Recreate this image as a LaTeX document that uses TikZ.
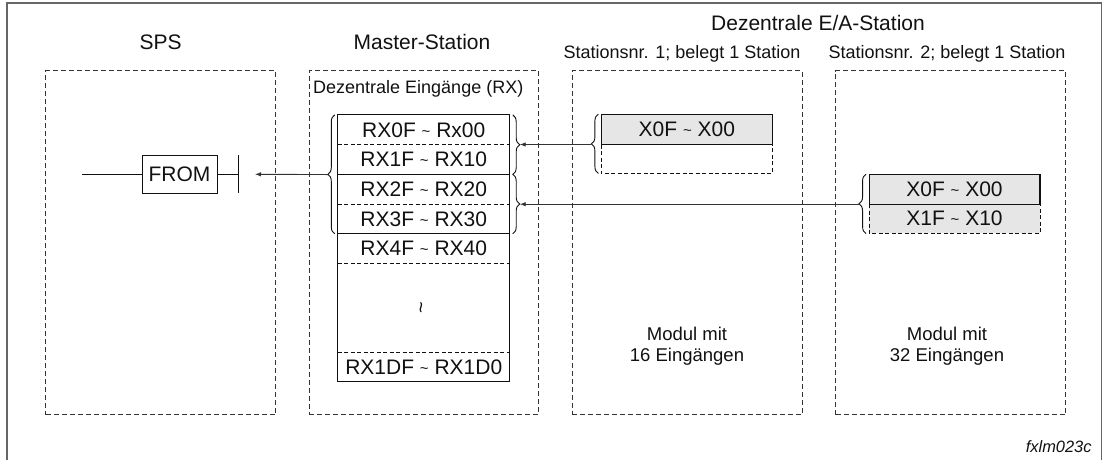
\documentclass[tikz,border=0pt]{standalone}
\usepackage{fontspec}
\setmainfont{Liberation Sans}
\usetikzlibrary{decorations.pathreplacing,arrows.meta,calc}

\definecolor{ink}{HTML}{111111}
\definecolor{rule}{HTML}{333333}
\definecolor{cellfill}{HTML}{E6E6E6}

\tikzset{
  frameline/.style={draw=black!60, line width=1.2pt},
  bigbox/.style={draw=rule, line width=0.9pt, dash pattern=on 5pt off 3pt,
    minimum width=230pt, minimum height=344pt, inner sep=0pt},
  cell/.style={inner sep=0pt, minimum width=171.5pt, minimum height=29.7pt,
    text=ink, font=\fontsize{21}{21}\selectfont},
  xcell/.style={cell, minimum width=170.5pt, fill=cellfill},
  solidrule/.style={draw=ink, line width=1.1pt},
  thinrule/.style={draw=ink, line width=0.9pt, dash pattern=on 4pt off 2.5pt},
  title/.style={text=ink, inner sep=0pt, font=\fontsize{21}{21}\selectfont},
  subtitle/.style={text=ink, inner sep=0pt, font=\fontsize{18}{18}\selectfont},
  curly/.style={draw=ink, line width=0.9pt, decorate,
    decoration={brace, amplitude=7pt}},
  conn/.style={draw=rule, line width=0.9pt, -{Latex[length=6pt,width=4.5pt]}},
  wire/.style={draw=ink, line width=1pt}
}

\newcommand{\tld}{\raisebox{0.05em}{\fontsize{15}{15}\selectfont\textasciitilde}}

\begin{document}
\begin{tikzpicture}[x=1pt, y=-1pt]
\useasboundingbox (0,0) rectangle (1104,459);

% outer frame (open at the bottom edge of the page)
\draw[frameline] (7,470) -- (7,3) -- (1101.5,3) -- (1101.5,470);

% headings
\node[title, anchor=base] (hsps) at (160.7,49.2) {SPS};
\node[title, anchor=base] (hmaster) at (422,49.2) {Master-Station};
\node[title, anchor=base] (hdez) at (818,30.8) {Dezentrale E/A-Station};
\node[subtitle, anchor=base] (hst1) at (682,58) {Stationsnr. 1; belegt 1 Station};
\node[subtitle, anchor=base] (hst2) at (947,58) {Stationsnr. 2; belegt 1 Station};

% dashed station frames
\node[bigbox] (sps) at (160.7,242.7) {};
\node[bigbox, minimum width=229.5pt] (master) at (423.75,242.7) {};
\node[bigbox] (st1) at (687,242.7) {};
\node[bigbox, minimum width=230.2pt] (st2) at (950.6,242.7) {};

\node[subtitle, anchor=base west] (rxlabel) at (313,93.7) {Dezentrale Eingänge (RX)};

% master input table
\node[cell] (r0) at (423.75,129.85) {RX0F \tld{} Rx00};
\node[cell] (r1) at (423.75,159.5) {RX1F \tld{} RX10};
\node[cell] (r2) at (423.75,189.2) {RX2F \tld{} RX20};
\node[cell] (r3) at (423.75,218.85) {RX3F \tld{} RX30};
\node[cell] (r4) at (423.75,248.5) {RX4F \tld{} RX40};
\node[cell, minimum height=88.7pt] (r5) at (423.75,307.65)
  {\rotatebox{90}{\fontsize{20}{20}\selectfont\textasciitilde}};
\node[cell] (r6) at (423.75,366.85) {RX1DF \tld{} RX1D0};

\draw[thinrule] (r0.south west) -- (r0.south east);
\draw[thinrule] (r2.south west) -- (r2.south east);
\draw[thinrule] (r4.south west) -- (r4.south east);
\draw[thinrule] (r5.south west) -- (r5.south east);
\draw[solidrule] (r1.south west) -- (r1.south east);
\draw[solidrule] (r3.south west) -- (r3.south east);
\draw[solidrule] (r0.north west) rectangle (r6.south east);

% station 1: 16 inputs
\node[xcell, minimum height=30pt] (s1a) at (686.85,129.3) {X0F \tld{} X00};
\node[cell, minimum width=170.5pt, minimum height=29pt] (s1b) at (686.85,158.8) {};
\draw[thinrule] (s1a.south west) -- (s1b.south west) -- (s1b.south east) -- (s1a.south east);
\draw[solidrule] (s1a.north west) rectangle (s1a.south east);

% station 2: 32 inputs
\node[xcell] (s2a) at (954.5,189.15) {X0F \tld{} X00};
\node[xcell, minimum height=29.3pt] (s2b) at (954.5,218.65) {X1F \tld{} X10};
\draw[thinrule] (s2a.south west) -- (s2b.south west) -- (s2b.south east) -- (s2a.south east);
\draw[solidrule] (s2a.north west) rectangle (s2a.south east);

\node[subtitle, align=center, font=\fontsize{18.5}{21.5}\selectfont, anchor=base]
  (mod1) at (687,361.5) {Modul mit\\16 Eingängen};
\node[subtitle, align=center, font=\fontsize{18.5}{21.5}\selectfont, anchor=base]
  (mod2) at (947,361.5) {Modul mit\\32 Eingängen};

% braces
\draw[curly] ([xshift=-3pt]r3.south west) -- ([xshift=-3pt]r0.north west);
\draw[curly] ([xshift=3pt]r0.north east) -- ([xshift=3pt]r1.south east);
\draw[curly] ([xshift=3pt]r2.north east) -- ([xshift=3pt]r3.south east);
\draw[curly] ([xshift=-3pt]s1b.south west) -- ([xshift=-3pt]s1a.north west);
\draw[curly] ([xshift=-3pt]s2b.south west) -- ([xshift=-3pt]s2a.north west);

\coordinate (tipL)  at ($(r1.south west)+(-10,0)$);
\coordinate (tipR1) at ($(r0.south east)+(10,0)$);
\coordinate (tipR2) at ($(r2.south east)+(10,0)$);
\coordinate (tip1)  at ($(s1a.south west)+(-10,0)$);
\coordinate (tip2)  at ($(s2a.south west)+(-10,0)$);

% PLC rung with FROM instruction
\node[draw=ink, line width=1pt, inner sep=0pt, minimum width=75pt, minimum height=38pt,
  text=ink, font=\fontsize{21}{21}\selectfont] (from) at (179.5,174) {FROM};
\coordinate (rungstart) at (82,174);
\coordinate (rungend) at (238,174);
\coordinate (sink) at (255,174.3);
\draw[wire] (rungstart) -- (from.west);
\draw[wire] (from.east) -- (rungend);
\draw[wire] ($(rungend)+(0,-19)$) -- ($(rungend)+(0,19)$);

% data flow
\draw[conn] (tipL) -- (sink);
\draw[conn] (tip1) -- (tip1 -| tipR1);
\draw[conn] (tip2) -- (tip2 -| tipR2);

\node[text=ink, inner sep=0pt, anchor=base east,
  font=\fontsize{16.4}{16.4}\selectfont\itshape] (code) at (1091.7,452.5) {fxlm023c};
\end{tikzpicture}
\end{document}
